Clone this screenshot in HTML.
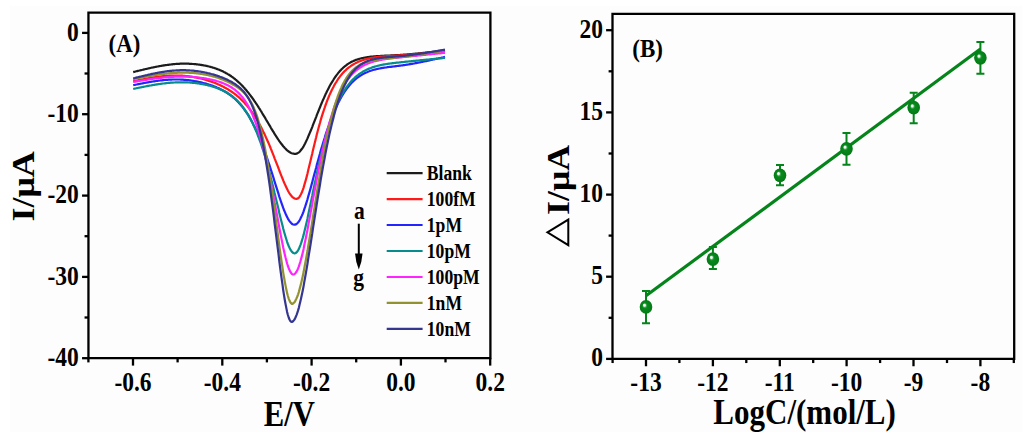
<!DOCTYPE html><html><head><meta charset="utf-8"><style>html,body{margin:0;padding:0;background:#fff;}svg{display:block;}text{font-family:"Liberation Serif",serif;font-weight:bold;fill:#000;}</style></head><body>
<svg width="1024" height="442" viewBox="0 0 1024 442">
<rect width="1024" height="442" fill="#fff"/><rect x="10" y="6" width="1012.5" height="426" fill="#fdfdfd"/>
<g stroke="#000" stroke-width="2.3" fill="none">
<path d="M88.45,12.7 H490.4 V358.2 H88.45 Z" stroke-linejoin="miter"/>
<path d="M88.45,32.9 H82.05"/>
<path d="M88.45,114.2 H82.05"/>
<path d="M88.45,195.6 H82.05"/>
<path d="M88.45,276.9 H82.05"/>
<path d="M88.45,358.2 H82.05"/>
<path d="M88.45,73.5 H84.55"/>
<path d="M88.45,154.9 H84.55"/>
<path d="M88.45,236.2 H84.55"/>
<path d="M88.45,317.5 H84.55"/>
<path d="M133.0,358.2 V365.6"/>
<path d="M222.3,358.2 V365.6"/>
<path d="M311.6,358.2 V365.6"/>
<path d="M400.9,358.2 V365.6"/>
<path d="M490.2,358.2 V365.6"/>
<path d="M88.4,358.2 V362.4"/>
<path d="M177.6,358.2 V362.4"/>
<path d="M266.9,358.2 V362.4"/>
<path d="M356.2,358.2 V362.4"/>
<path d="M445.5,358.2 V362.4"/>
</g>
<text transform="translate(78.7,40.5) scale(1,1.14)" font-size="23.5" text-anchor="end">0</text>
<text transform="translate(78.7,121.8) scale(1,1.14)" font-size="23.5" text-anchor="end">-10</text>
<text transform="translate(78.7,203.2) scale(1,1.14)" font-size="23.5" text-anchor="end">-20</text>
<text transform="translate(78.7,284.5) scale(1,1.14)" font-size="23.5" text-anchor="end">-30</text>
<text transform="translate(78.7,365.8) scale(1,1.14)" font-size="23.5" text-anchor="end">-40</text>
<text transform="translate(133.0,390.5) scale(1,1.14)" font-size="23.5" text-anchor="middle">-0.6</text>
<text transform="translate(222.3,390.5) scale(1,1.14)" font-size="23.5" text-anchor="middle">-0.4</text>
<text transform="translate(311.6,390.5) scale(1,1.14)" font-size="23.5" text-anchor="middle">-0.2</text>
<text transform="translate(400.9,390.5) scale(1,1.14)" font-size="23.5" text-anchor="middle">0.0</text>
<text transform="translate(490.2,390.5) scale(1,1.14)" font-size="23.5" text-anchor="middle">0.2</text>
<text transform="translate(289.4,425.7) scale(1,1.14)" font-size="30.7" text-anchor="middle">E/V</text>
<text transform="translate(33.6,186.4) scale(1,1.17) rotate(-90)" font-size="30.7" text-anchor="middle">I/μA</text>
<text transform="translate(108.6,51.5) scale(1,1.14)" font-size="22.8" text-anchor="start">(A)</text>
<g fill="none" stroke-width="2.2" stroke-linejoin="round">
<path stroke="#1c1c1c" d="M133.2,72.1 L134.0,71.9 L134.8,71.7 L135.5,71.5 L136.3,71.3 L137.1,71.1 L137.9,70.9 L138.7,70.7 L139.5,70.5 L140.2,70.3 L141.0,70.2 L141.8,70.0 L142.6,69.8 L143.4,69.6 L144.1,69.4 L144.9,69.2 L145.7,69.0 L146.5,68.9 L147.3,68.7 L148.0,68.5 L148.8,68.3 L149.6,68.2 L150.4,68.0 L151.2,67.8 L152.0,67.6 L152.7,67.5 L153.5,67.3 L154.3,67.2 L155.1,67.0 L155.9,66.8 L156.6,66.7 L157.4,66.5 L158.2,66.4 L159.0,66.2 L159.8,66.1 L160.6,66.0 L161.3,65.8 L162.1,65.7 L162.9,65.6 L163.7,65.4 L164.5,65.3 L165.2,65.2 L166.0,65.1 L166.8,65.0 L167.6,64.9 L168.4,64.8 L169.1,64.7 L169.9,64.6 L170.7,64.5 L171.5,64.4 L172.3,64.3 L173.1,64.2 L173.8,64.1 L174.6,64.1 L175.4,64.0 L176.2,63.9 L177.0,63.9 L177.7,63.8 L178.5,63.8 L179.3,63.8 L180.1,63.7 L180.9,63.7 L181.7,63.7 L182.4,63.7 L183.2,63.7 L184.0,63.7 L184.8,63.7 L185.6,63.7 L186.3,63.7 L187.1,63.7 L187.9,63.7 L188.7,63.7 L189.5,63.8 L190.2,63.8 L191.0,63.9 L191.8,63.9 L192.6,64.0 L193.4,64.0 L194.2,64.1 L194.9,64.2 L195.7,64.2 L196.5,64.3 L197.3,64.4 L198.1,64.5 L198.8,64.6 L199.6,64.7 L200.4,64.8 L201.2,64.9 L202.0,65.1 L202.7,65.2 L203.5,65.3 L204.3,65.5 L205.1,65.6 L205.9,65.8 L206.7,65.9 L207.4,66.1 L208.2,66.3 L209.0,66.5 L209.8,66.7 L210.6,66.9 L211.3,67.1 L212.1,67.3 L212.9,67.6 L213.7,67.8 L214.5,68.1 L215.3,68.3 L216.0,68.6 L216.8,68.9 L217.6,69.2 L218.4,69.5 L219.2,69.8 L219.9,70.1 L220.7,70.4 L221.5,70.8 L222.3,71.1 L223.1,71.5 L223.8,71.9 L224.6,72.3 L225.4,72.7 L226.2,73.2 L227.0,73.6 L227.8,74.1 L228.5,74.5 L229.3,75.0 L230.1,75.5 L230.9,76.0 L231.7,76.6 L232.4,77.1 L233.2,77.7 L234.0,78.3 L234.8,78.9 L235.6,79.6 L236.4,80.2 L237.1,80.9 L237.9,81.6 L238.7,82.3 L239.5,83.0 L240.3,83.8 L241.0,84.5 L241.8,85.3 L242.6,86.1 L243.4,87.0 L244.2,87.8 L244.9,88.7 L245.7,89.6 L246.5,90.5 L247.3,91.5 L248.1,92.4 L248.9,93.4 L249.6,94.4 L250.4,95.4 L251.2,96.5 L252.0,97.5 L252.8,98.6 L253.5,99.7 L254.3,100.9 L255.1,102.0 L255.9,103.2 L256.7,104.3 L257.5,105.5 L258.2,106.7 L259.0,108.0 L259.8,109.2 L260.6,110.5 L261.4,111.7 L262.1,113.0 L262.9,114.3 L263.7,115.6 L264.5,116.9 L265.3,118.2 L266.0,119.5 L266.8,120.8 L267.6,122.2 L268.4,123.5 L269.2,124.8 L270.0,126.1 L270.7,127.5 L271.5,128.8 L272.3,130.1 L273.1,131.4 L273.9,132.7 L274.6,133.9 L275.4,135.2 L276.2,136.4 L277.0,137.6 L277.8,138.8 L278.6,140.0 L279.3,141.1 L280.1,142.2 L280.9,143.3 L281.7,144.3 L282.5,145.3 L283.2,146.2 L284.0,147.1 L284.8,148.0 L285.6,148.8 L286.4,149.6 L287.1,150.3 L287.9,150.9 L288.7,151.5 L289.5,152.0 L290.3,152.5 L291.1,152.9 L291.8,153.2 L292.6,153.5 L293.4,153.6 L294.2,153.8 L295.0,153.8 L295.7,153.8 L296.5,153.7 L297.3,153.4 L298.1,152.9 L298.9,152.4 L299.6,151.7 L300.4,150.8 L301.2,149.8 L302.0,148.8 L302.8,147.6 L303.6,146.3 L304.3,144.9 L305.1,143.4 L305.9,141.8 L306.7,140.1 L307.5,138.4 L308.2,136.6 L309.0,134.8 L309.8,132.9 L310.6,131.0 L311.4,129.1 L312.2,127.1 L312.9,125.1 L313.7,123.1 L314.5,121.1 L315.3,119.1 L316.1,117.1 L316.8,115.1 L317.6,113.1 L318.4,111.2 L319.2,109.2 L320.0,107.3 L320.7,105.4 L321.5,103.5 L322.3,101.6 L323.1,99.8 L323.9,98.1 L324.7,96.3 L325.4,94.6 L326.2,93.0 L327.0,91.3 L327.8,89.8 L328.6,88.2 L329.3,86.8 L330.1,85.3 L330.9,83.9 L331.7,82.6 L332.5,81.3 L333.3,80.0 L334.0,78.8 L334.8,77.6 L335.6,76.5 L336.4,75.4 L337.2,74.4 L337.9,73.4 L338.7,72.4 L339.5,71.5 L340.3,70.6 L341.1,69.8 L341.8,69.0 L342.6,68.3 L343.4,67.5 L344.2,66.8 L345.0,66.2 L345.8,65.6 L346.5,65.0 L347.3,64.4 L348.1,63.9 L348.9,63.4 L349.7,62.9 L350.4,62.5 L351.2,62.0 L352.0,61.6 L352.8,61.3 L353.6,60.9 L354.4,60.6 L355.1,60.2 L355.9,59.9 L356.7,59.7 L357.5,59.4 L358.3,59.2 L359.0,58.9 L359.8,58.7 L360.6,58.5 L361.4,58.3 L362.2,58.1 L362.9,58.0 L363.7,57.8 L364.5,57.7 L365.3,57.5 L366.1,57.4 L366.9,57.3 L367.6,57.1 L368.4,57.0 L369.2,56.9 L370.0,56.8 L370.8,56.7 L371.5,56.7 L372.3,56.6 L373.1,56.5 L373.9,56.4 L374.7,56.4 L375.5,56.3 L376.2,56.2 L377.0,56.2 L377.8,56.1 L378.6,56.1 L379.4,56.0 L380.1,56.0 L380.9,55.9 L381.7,55.9 L382.5,55.8 L383.3,55.8 L384.0,55.8 L384.8,55.7 L385.6,55.7 L386.4,55.6 L387.2,55.6 L388.0,55.6 L388.7,55.5 L389.5,55.5 L390.3,55.5 L391.1,55.4 L391.9,55.4 L392.6,55.3 L393.4,55.3 L394.2,55.3 L395.0,55.2 L395.8,55.2 L396.5,55.1 L397.3,55.1 L398.1,55.1 L398.9,55.0 L399.7,55.0 L400.5,54.9 L401.2,54.9 L402.0,54.8 L402.8,54.8 L403.6,54.7 L404.4,54.6 L405.1,54.6 L405.9,54.5 L406.7,54.5 L407.5,54.4 L408.3,54.3 L409.1,54.3 L409.8,54.2 L410.6,54.2 L411.4,54.1 L412.2,54.0 L413.0,53.9 L413.7,53.9 L414.5,53.8 L415.3,53.7 L416.1,53.7 L416.9,53.6 L417.6,53.5 L418.4,53.4 L419.2,53.3 L420.0,53.3 L420.8,53.2 L421.6,53.1 L422.3,53.0 L423.1,52.9 L423.9,52.8 L424.7,52.8 L425.5,52.7 L426.2,52.6 L427.0,52.5 L427.8,52.4 L428.6,52.3 L429.4,52.2 L430.2,52.1 L430.9,52.1 L431.7,52.0 L432.5,51.9 L433.3,51.8 L434.1,51.7 L434.8,51.6 L435.6,51.5 L436.4,51.4 L437.2,51.3 L438.0,51.2 L438.7,51.1 L439.5,51.0 L440.3,50.9 L441.1,50.9 L441.9,50.8 L442.7,50.7 L443.4,50.6 L444.2,50.5 L445.0,50.4"/>
<path stroke="#ff1a1a" d="M133.2,81.3 L134.0,81.1 L134.8,81.0 L135.5,80.8 L136.3,80.6 L137.1,80.5 L137.9,80.3 L138.7,80.1 L139.5,80.0 L140.2,79.8 L141.0,79.7 L141.8,79.5 L142.6,79.4 L143.4,79.2 L144.1,79.1 L144.9,78.9 L145.7,78.8 L146.5,78.6 L147.3,78.5 L148.0,78.3 L148.8,78.2 L149.6,78.1 L150.4,77.9 L151.2,77.8 L152.0,77.7 L152.7,77.6 L153.5,77.4 L154.3,77.3 L155.1,77.2 L155.9,77.1 L156.6,77.0 L157.4,76.9 L158.2,76.8 L159.0,76.7 L159.8,76.6 L160.6,76.5 L161.3,76.4 L162.1,76.3 L162.9,76.2 L163.7,76.1 L164.5,76.1 L165.2,76.0 L166.0,75.9 L166.8,75.9 L167.6,75.8 L168.4,75.8 L169.1,75.7 L169.9,75.7 L170.7,75.6 L171.5,75.6 L172.3,75.6 L173.1,75.6 L173.8,75.5 L174.6,75.5 L175.4,75.5 L176.2,75.5 L177.0,75.5 L177.7,75.5 L178.5,75.6 L179.3,75.6 L180.1,75.6 L180.9,75.7 L181.7,75.7 L182.4,75.7 L183.2,75.8 L184.0,75.9 L184.8,75.9 L185.6,76.0 L186.3,76.1 L187.1,76.2 L187.9,76.2 L188.7,76.3 L189.5,76.4 L190.2,76.6 L191.0,76.7 L191.8,76.8 L192.6,76.9 L193.4,77.0 L194.2,77.2 L194.9,77.3 L195.7,77.5 L196.5,77.6 L197.3,77.8 L198.1,77.9 L198.8,78.1 L199.6,78.3 L200.4,78.5 L201.2,78.6 L202.0,78.8 L202.7,79.0 L203.5,79.2 L204.3,79.5 L205.1,79.7 L205.9,79.9 L206.7,80.1 L207.4,80.4 L208.2,80.6 L209.0,80.9 L209.8,81.1 L210.6,81.4 L211.3,81.6 L212.1,81.9 L212.9,82.2 L213.7,82.5 L214.5,82.8 L215.3,83.1 L216.0,83.4 L216.8,83.7 L217.6,84.1 L218.4,84.4 L219.2,84.8 L219.9,85.1 L220.7,85.5 L221.5,85.9 L222.3,86.2 L223.1,86.6 L223.8,87.0 L224.6,87.5 L225.4,87.9 L226.2,88.3 L227.0,88.8 L227.8,89.2 L228.5,89.7 L229.3,90.2 L230.1,90.7 L230.9,91.2 L231.7,91.7 L232.4,92.3 L233.2,92.8 L234.0,93.4 L234.8,94.0 L235.6,94.6 L236.4,95.2 L237.1,95.9 L237.9,96.5 L238.7,97.2 L239.5,97.9 L240.3,98.6 L241.0,99.4 L241.8,100.1 L242.6,100.9 L243.4,101.7 L244.2,102.5 L244.9,103.4 L245.7,104.3 L246.5,105.1 L247.3,106.1 L248.1,107.0 L248.9,108.0 L249.6,109.0 L250.4,110.0 L251.2,111.1 L252.0,112.2 L252.8,113.3 L253.5,114.5 L254.3,115.7 L255.1,116.9 L255.9,118.1 L256.7,119.4 L257.5,120.7 L258.2,122.1 L259.0,123.4 L259.8,124.9 L260.6,126.3 L261.4,127.8 L262.1,129.3 L262.9,130.9 L263.7,132.5 L264.5,134.1 L265.3,135.8 L266.0,137.5 L266.8,139.2 L267.6,141.0 L268.4,142.8 L269.2,144.6 L270.0,146.5 L270.7,148.4 L271.5,150.3 L272.3,152.3 L273.1,154.3 L273.9,156.3 L274.6,158.3 L275.4,160.3 L276.2,162.3 L277.0,164.4 L277.8,166.4 L278.6,168.5 L279.3,170.5 L280.1,172.6 L280.9,174.6 L281.7,176.6 L282.5,178.5 L283.2,180.4 L284.0,182.3 L284.8,184.1 L285.6,185.8 L286.4,187.5 L287.1,189.1 L287.9,190.6 L288.7,192.0 L289.5,193.3 L290.3,194.5 L291.1,195.5 L291.8,196.4 L292.6,197.2 L293.4,197.8 L294.2,198.3 L295.0,198.6 L295.7,198.8 L296.5,198.8 L297.3,198.7 L298.1,198.3 L298.9,197.6 L299.6,196.6 L300.4,195.3 L301.2,193.8 L302.0,192.0 L302.8,189.9 L303.6,187.6 L304.3,185.1 L305.1,182.4 L305.9,179.6 L306.7,176.6 L307.5,173.5 L308.2,170.3 L309.0,167.1 L309.8,163.8 L310.6,160.5 L311.4,157.1 L312.2,153.8 L312.9,150.5 L313.7,147.2 L314.5,143.9 L315.3,140.7 L316.1,137.6 L316.8,134.5 L317.6,131.4 L318.4,128.5 L319.2,125.6 L320.0,122.8 L320.7,120.1 L321.5,117.4 L322.3,114.9 L323.1,112.4 L323.9,110.0 L324.7,107.7 L325.4,105.5 L326.2,103.3 L327.0,101.2 L327.8,99.2 L328.6,97.3 L329.3,95.4 L330.1,93.7 L330.9,92.0 L331.7,90.3 L332.5,88.7 L333.3,87.2 L334.0,85.8 L334.8,84.4 L335.6,83.0 L336.4,81.8 L337.2,80.5 L337.9,79.4 L338.7,78.2 L339.5,77.2 L340.3,76.1 L341.1,75.1 L341.8,74.2 L342.6,73.3 L343.4,72.4 L344.2,71.6 L345.0,70.8 L345.8,70.1 L346.5,69.4 L347.3,68.7 L348.1,68.0 L348.9,67.4 L349.7,66.8 L350.4,66.3 L351.2,65.7 L352.0,65.2 L352.8,64.7 L353.6,64.2 L354.4,63.8 L355.1,63.4 L355.9,62.9 L356.7,62.6 L357.5,62.2 L358.3,61.8 L359.0,61.5 L359.8,61.2 L360.6,60.9 L361.4,60.6 L362.2,60.3 L362.9,60.1 L363.7,59.8 L364.5,59.6 L365.3,59.4 L366.1,59.1 L366.9,58.9 L367.6,58.7 L368.4,58.6 L369.2,58.4 L370.0,58.2 L370.8,58.1 L371.5,57.9 L372.3,57.8 L373.1,57.7 L373.9,57.5 L374.7,57.4 L375.5,57.3 L376.2,57.2 L377.0,57.1 L377.8,57.0 L378.6,56.9 L379.4,56.8 L380.1,56.7 L380.9,56.7 L381.7,56.6 L382.5,56.5 L383.3,56.4 L384.0,56.4 L384.8,56.3 L385.6,56.3 L386.4,56.2 L387.2,56.1 L388.0,56.1 L388.7,56.0 L389.5,56.0 L390.3,55.9 L391.1,55.9 L391.9,55.9 L392.6,55.8 L393.4,55.8 L394.2,55.7 L395.0,55.7 L395.8,55.6 L396.5,55.6 L397.3,55.5 L398.1,55.5 L398.9,55.4 L399.7,55.4 L400.5,55.3 L401.2,55.3 L402.0,55.2 L402.8,55.2 L403.6,55.1 L404.4,55.1 L405.1,55.0 L405.9,55.0 L406.7,54.9 L407.5,54.8 L408.3,54.8 L409.1,54.7 L409.8,54.6 L410.6,54.6 L411.4,54.5 L412.2,54.4 L413.0,54.4 L413.7,54.3 L414.5,54.2 L415.3,54.1 L416.1,54.1 L416.9,54.0 L417.6,53.9 L418.4,53.8 L419.2,53.8 L420.0,53.7 L420.8,53.6 L421.6,53.5 L422.3,53.4 L423.1,53.3 L423.9,53.2 L424.7,53.2 L425.5,53.1 L426.2,53.0 L427.0,52.9 L427.8,52.8 L428.6,52.7 L429.4,52.6 L430.2,52.5 L430.9,52.5 L431.7,52.4 L432.5,52.3 L433.3,52.2 L434.1,52.1 L434.8,52.0 L435.6,51.9 L436.4,51.8 L437.2,51.7 L438.0,51.6 L438.7,51.5 L439.5,51.4 L440.3,51.3 L441.1,51.2 L441.9,51.2 L442.7,51.1 L443.4,51.0 L444.2,50.9 L445.0,50.8"/>
<path stroke="#2424ff" d="M133.2,85.2 L134.0,85.0 L134.8,84.9 L135.5,84.7 L136.3,84.5 L137.1,84.4 L137.9,84.2 L138.7,84.1 L139.5,83.9 L140.2,83.8 L141.0,83.6 L141.8,83.5 L142.6,83.3 L143.4,83.2 L144.1,83.0 L144.9,82.9 L145.7,82.7 L146.5,82.6 L147.3,82.4 L148.0,82.3 L148.8,82.2 L149.6,82.0 L150.4,81.9 L151.2,81.8 L152.0,81.6 L152.7,81.5 L153.5,81.4 L154.3,81.3 L155.1,81.2 L155.9,81.0 L156.6,80.9 L157.4,80.8 L158.2,80.7 L159.0,80.6 L159.8,80.5 L160.6,80.4 L161.3,80.3 L162.1,80.3 L162.9,80.2 L163.7,80.1 L164.5,80.0 L165.2,80.0 L166.0,79.9 L166.8,79.8 L167.6,79.8 L168.4,79.7 L169.1,79.7 L169.9,79.6 L170.7,79.6 L171.5,79.6 L172.3,79.5 L173.1,79.5 L173.8,79.5 L174.6,79.5 L175.4,79.5 L176.2,79.5 L177.0,79.5 L177.7,79.5 L178.5,79.5 L179.3,79.5 L180.1,79.5 L180.9,79.6 L181.7,79.6 L182.4,79.7 L183.2,79.7 L184.0,79.8 L184.8,79.8 L185.6,79.9 L186.3,80.0 L187.1,80.1 L187.9,80.1 L188.7,80.2 L189.5,80.3 L190.2,80.4 L191.0,80.5 L191.8,80.6 L192.6,80.8 L193.4,80.9 L194.2,81.0 L194.9,81.2 L195.7,81.3 L196.5,81.4 L197.3,81.6 L198.1,81.7 L198.8,81.9 L199.6,82.1 L200.4,82.2 L201.2,82.4 L202.0,82.6 L202.7,82.8 L203.5,83.0 L204.3,83.2 L205.1,83.4 L205.9,83.6 L206.7,83.9 L207.4,84.1 L208.2,84.3 L209.0,84.6 L209.8,84.8 L210.6,85.1 L211.3,85.3 L212.1,85.6 L212.9,85.9 L213.7,86.2 L214.5,86.5 L215.3,86.8 L216.0,87.1 L216.8,87.5 L217.6,87.8 L218.4,88.1 L219.2,88.5 L219.9,88.9 L220.7,89.3 L221.5,89.6 L222.3,90.1 L223.1,90.5 L223.8,90.9 L224.6,91.3 L225.4,91.8 L226.2,92.3 L227.0,92.8 L227.8,93.3 L228.5,93.8 L229.3,94.3 L230.1,94.9 L230.9,95.5 L231.7,96.1 L232.4,96.7 L233.2,97.4 L234.0,98.0 L234.8,98.7 L235.6,99.4 L236.4,100.2 L237.1,100.9 L237.9,101.7 L238.7,102.6 L239.5,103.4 L240.3,104.3 L241.0,105.2 L241.8,106.1 L242.6,107.1 L243.4,108.1 L244.2,109.2 L244.9,110.3 L245.7,111.4 L246.5,112.5 L247.3,113.7 L248.1,114.9 L248.9,116.2 L249.6,117.5 L250.4,118.9 L251.2,120.2 L252.0,121.7 L252.8,123.2 L253.5,124.7 L254.3,126.2 L255.1,127.8 L255.9,129.5 L256.7,131.2 L257.5,132.9 L258.2,134.7 L259.0,136.6 L259.8,138.4 L260.6,140.4 L261.4,142.3 L262.1,144.4 L262.9,146.4 L263.7,148.5 L264.5,150.7 L265.3,152.9 L266.0,155.1 L266.8,157.4 L267.6,159.7 L268.4,162.0 L269.2,164.4 L270.0,166.8 L270.7,169.2 L271.5,171.7 L272.3,174.2 L273.1,176.7 L273.9,179.2 L274.6,181.7 L275.4,184.2 L276.2,186.7 L277.0,189.2 L277.8,191.7 L278.6,194.2 L279.3,196.6 L280.1,199.0 L280.9,201.3 L281.7,203.6 L282.5,205.8 L283.2,207.9 L284.0,210.0 L284.8,211.9 L285.6,213.8 L286.4,215.5 L287.1,217.1 L287.9,218.6 L288.7,219.9 L289.5,221.1 L290.3,222.1 L291.1,223.0 L291.8,223.7 L292.6,224.2 L293.4,224.5 L294.2,224.7 L295.0,224.6 L295.7,224.4 L296.5,224.0 L297.3,223.3 L298.1,222.5 L298.9,221.4 L299.6,220.2 L300.4,218.7 L301.2,217.1 L302.0,215.4 L302.8,213.5 L303.6,211.4 L304.3,209.2 L305.1,206.9 L305.9,204.4 L306.7,201.9 L307.5,199.3 L308.2,196.6 L309.0,193.9 L309.8,191.1 L310.6,188.2 L311.4,185.3 L312.2,182.4 L312.9,179.5 L313.7,176.5 L314.5,173.6 L315.3,170.7 L316.1,167.8 L316.8,164.9 L317.6,162.0 L318.4,159.2 L319.2,156.3 L320.0,153.6 L320.7,150.8 L321.5,148.1 L322.3,145.5 L323.1,142.9 L323.9,140.3 L324.7,137.8 L325.4,135.3 L326.2,132.9 L327.0,130.6 L327.8,128.3 L328.6,126.1 L329.3,123.9 L330.1,121.7 L330.9,119.7 L331.7,117.6 L332.5,115.7 L333.3,113.8 L334.0,111.9 L334.8,110.1 L335.6,108.4 L336.4,106.7 L337.2,105.0 L337.9,103.4 L338.7,101.9 L339.5,100.4 L340.3,98.9 L341.1,97.5 L341.8,96.2 L342.6,94.9 L343.4,93.6 L344.2,92.4 L345.0,91.2 L345.8,90.1 L346.5,89.0 L347.3,88.0 L348.1,87.0 L348.9,86.0 L349.7,85.1 L350.4,84.2 L351.2,83.3 L352.0,82.5 L352.8,81.7 L353.6,80.9 L354.4,80.2 L355.1,79.5 L355.9,78.9 L356.7,78.2 L357.5,77.6 L358.3,77.0 L359.0,76.5 L359.8,76.0 L360.6,75.4 L361.4,75.0 L362.2,74.5 L362.9,74.1 L363.7,73.7 L364.5,73.3 L365.3,72.9 L366.1,72.5 L366.9,72.2 L367.6,71.9 L368.4,71.5 L369.2,71.3 L370.0,71.0 L370.8,70.7 L371.5,70.5 L372.3,70.2 L373.1,70.0 L373.9,69.8 L374.7,69.6 L375.5,69.4 L376.2,69.2 L377.0,69.0 L377.8,68.8 L378.6,68.7 L379.4,68.5 L380.1,68.4 L380.9,68.2 L381.7,68.1 L382.5,67.9 L383.3,67.8 L384.0,67.7 L384.8,67.6 L385.6,67.5 L386.4,67.4 L387.2,67.2 L388.0,67.1 L388.7,67.0 L389.5,66.9 L390.3,66.8 L391.1,66.8 L391.9,66.7 L392.6,66.6 L393.4,66.5 L394.2,66.4 L395.0,66.3 L395.8,66.2 L396.5,66.1 L397.3,66.0 L398.1,65.9 L398.9,65.8 L399.7,65.7 L400.5,65.6 L401.2,65.5 L402.0,65.4 L402.8,65.3 L403.6,65.2 L404.4,65.1 L405.1,65.0 L405.9,64.8 L406.7,64.7 L407.5,64.6 L408.3,64.5 L409.1,64.3 L409.8,64.2 L410.6,64.1 L411.4,63.9 L412.2,63.8 L413.0,63.7 L413.7,63.5 L414.5,63.4 L415.3,63.2 L416.1,63.1 L416.9,62.9 L417.6,62.8 L418.4,62.6 L419.2,62.5 L420.0,62.3 L420.8,62.2 L421.6,62.0 L422.3,61.9 L423.1,61.7 L423.9,61.5 L424.7,61.4 L425.5,61.2 L426.2,61.1 L427.0,60.9 L427.8,60.7 L428.6,60.6 L429.4,60.4 L430.2,60.2 L430.9,60.0 L431.7,59.9 L432.5,59.7 L433.3,59.5 L434.1,59.4 L434.8,59.2 L435.6,59.0 L436.4,58.8 L437.2,58.7 L438.0,58.5 L438.7,58.3 L439.5,58.1 L440.3,58.0 L441.1,57.8 L441.9,57.6 L442.7,57.5 L443.4,57.3 L444.2,57.1 L445.0,56.9"/>
<path stroke="#068c8c" d="M133.2,89.0 L134.0,88.8 L134.8,88.6 L135.5,88.5 L136.3,88.3 L137.1,88.1 L137.9,88.0 L138.7,87.8 L139.5,87.6 L140.2,87.5 L141.0,87.3 L141.8,87.2 L142.6,87.0 L143.4,86.8 L144.1,86.7 L144.9,86.5 L145.7,86.4 L146.5,86.2 L147.3,86.1 L148.0,85.9 L148.8,85.8 L149.6,85.6 L150.4,85.5 L151.2,85.4 L152.0,85.2 L152.7,85.1 L153.5,85.0 L154.3,84.8 L155.1,84.7 L155.9,84.6 L156.6,84.4 L157.4,84.3 L158.2,84.2 L159.0,84.1 L159.8,84.0 L160.6,83.9 L161.3,83.8 L162.1,83.6 L162.9,83.5 L163.7,83.5 L164.5,83.4 L165.2,83.3 L166.0,83.2 L166.8,83.1 L167.6,83.0 L168.4,82.9 L169.1,82.9 L169.9,82.8 L170.7,82.7 L171.5,82.7 L172.3,82.6 L173.1,82.6 L173.8,82.5 L174.6,82.5 L175.4,82.4 L176.2,82.4 L177.0,82.4 L177.7,82.3 L178.5,82.3 L179.3,82.3 L180.1,82.3 L180.9,82.3 L181.7,82.3 L182.4,82.3 L183.2,82.3 L184.0,82.3 L184.8,82.3 L185.6,82.4 L186.3,82.4 L187.1,82.4 L187.9,82.5 L188.7,82.5 L189.5,82.5 L190.2,82.6 L191.0,82.7 L191.8,82.7 L192.6,82.8 L193.4,82.9 L194.2,83.0 L194.9,83.0 L195.7,83.1 L196.5,83.2 L197.3,83.3 L198.1,83.4 L198.8,83.5 L199.6,83.7 L200.4,83.8 L201.2,83.9 L202.0,84.1 L202.7,84.2 L203.5,84.3 L204.3,84.5 L205.1,84.7 L205.9,84.8 L206.7,85.0 L207.4,85.2 L208.2,85.4 L209.0,85.6 L209.8,85.8 L210.6,86.0 L211.3,86.2 L212.1,86.4 L212.9,86.7 L213.7,86.9 L214.5,87.2 L215.3,87.4 L216.0,87.7 L216.8,88.0 L217.6,88.3 L218.4,88.6 L219.2,88.9 L219.9,89.2 L220.7,89.6 L221.5,89.9 L222.3,90.3 L223.1,90.7 L223.8,91.1 L224.6,91.5 L225.4,91.9 L226.2,92.3 L227.0,92.8 L227.8,93.3 L228.5,93.8 L229.3,94.3 L230.1,94.8 L230.9,95.4 L231.7,95.9 L232.4,96.5 L233.2,97.1 L234.0,97.8 L234.8,98.5 L235.6,99.2 L236.4,99.9 L237.1,100.6 L237.9,101.4 L238.7,102.2 L239.5,103.1 L240.3,103.9 L241.0,104.8 L241.8,105.8 L242.6,106.8 L243.4,107.8 L244.2,108.9 L244.9,110.0 L245.7,111.1 L246.5,112.3 L247.3,113.5 L248.1,114.8 L248.9,116.1 L249.6,117.5 L250.4,118.9 L251.2,120.4 L252.0,122.0 L252.8,123.6 L253.5,125.2 L254.3,126.9 L255.1,128.7 L255.9,130.5 L256.7,132.4 L257.5,134.3 L258.2,136.3 L259.0,138.4 L259.8,140.5 L260.6,142.7 L261.4,145.0 L262.1,147.3 L262.9,149.7 L263.7,152.2 L264.5,154.7 L265.3,157.3 L266.0,160.0 L266.8,162.7 L267.6,165.5 L268.4,168.4 L269.2,171.3 L270.0,174.2 L270.7,177.3 L271.5,180.4 L272.3,183.5 L273.1,186.7 L273.9,189.9 L274.6,193.1 L275.4,196.4 L276.2,199.7 L277.0,203.0 L277.8,206.3 L278.6,209.6 L279.3,212.9 L280.1,216.2 L280.9,219.4 L281.7,222.5 L282.5,225.6 L283.2,228.6 L284.0,231.5 L284.8,234.3 L285.6,237.0 L286.4,239.5 L287.1,241.8 L287.9,244.0 L288.7,246.0 L289.5,247.7 L290.3,249.3 L291.1,250.6 L291.8,251.6 L292.6,252.4 L293.4,253.0 L294.2,253.3 L295.0,253.3 L295.7,253.0 L296.5,252.4 L297.3,251.5 L298.1,250.3 L298.9,248.9 L299.6,247.1 L300.4,245.1 L301.2,242.9 L302.0,240.4 L302.8,237.8 L303.6,234.9 L304.3,231.9 L305.1,228.7 L305.9,225.3 L306.7,221.9 L307.5,218.4 L308.2,214.7 L309.0,211.0 L309.8,207.3 L310.6,203.5 L311.4,199.7 L312.2,196.0 L312.9,192.2 L313.7,188.4 L314.5,184.6 L315.3,180.9 L316.1,177.2 L316.8,173.6 L317.6,170.0 L318.4,166.5 L319.2,163.1 L320.0,159.7 L320.7,156.4 L321.5,153.1 L322.3,150.0 L323.1,146.9 L323.9,143.8 L324.7,140.9 L325.4,138.0 L326.2,135.3 L327.0,132.5 L327.8,129.9 L328.6,127.4 L329.3,124.9 L330.1,122.5 L330.9,120.2 L331.7,117.9 L332.5,115.7 L333.3,113.6 L334.0,111.6 L334.8,109.6 L335.6,107.7 L336.4,105.9 L337.2,104.1 L337.9,102.4 L338.7,100.7 L339.5,99.1 L340.3,97.6 L341.1,96.1 L341.8,94.7 L342.6,93.3 L343.4,92.0 L344.2,90.7 L345.0,89.5 L345.8,88.3 L346.5,87.2 L347.3,86.1 L348.1,85.1 L348.9,84.1 L349.7,83.1 L350.4,82.2 L351.2,81.3 L352.0,80.4 L352.8,79.6 L353.6,78.8 L354.4,78.1 L355.1,77.4 L355.9,76.7 L356.7,76.0 L357.5,75.4 L358.3,74.8 L359.0,74.2 L359.8,73.6 L360.6,73.1 L361.4,72.6 L362.2,72.1 L362.9,71.6 L363.7,71.2 L364.5,70.8 L365.3,70.4 L366.1,70.0 L366.9,69.6 L367.6,69.2 L368.4,68.9 L369.2,68.6 L370.0,68.3 L370.8,68.0 L371.5,67.7 L372.3,67.4 L373.1,67.1 L373.9,66.9 L374.7,66.6 L375.5,66.4 L376.2,66.2 L377.0,66.0 L377.8,65.8 L378.6,65.6 L379.4,65.4 L380.1,65.2 L380.9,65.1 L381.7,64.9 L382.5,64.7 L383.3,64.6 L384.0,64.4 L384.8,64.3 L385.6,64.2 L386.4,64.0 L387.2,63.9 L388.0,63.8 L388.7,63.7 L389.5,63.6 L390.3,63.5 L391.1,63.4 L391.9,63.3 L392.6,63.2 L393.4,63.1 L394.2,63.0 L395.0,62.9 L395.8,62.8 L396.5,62.7 L397.3,62.6 L398.1,62.6 L398.9,62.5 L399.7,62.4 L400.5,62.3 L401.2,62.2 L402.0,62.1 L402.8,62.1 L403.6,62.0 L404.4,61.9 L405.1,61.8 L405.9,61.7 L406.7,61.7 L407.5,61.6 L408.3,61.5 L409.1,61.4 L409.8,61.3 L410.6,61.3 L411.4,61.2 L412.2,61.1 L413.0,61.0 L413.7,60.9 L414.5,60.9 L415.3,60.8 L416.1,60.7 L416.9,60.6 L417.6,60.6 L418.4,60.5 L419.2,60.4 L420.0,60.3 L420.8,60.2 L421.6,60.2 L422.3,60.1 L423.1,60.0 L423.9,59.9 L424.7,59.8 L425.5,59.8 L426.2,59.7 L427.0,59.6 L427.8,59.5 L428.6,59.5 L429.4,59.4 L430.2,59.3 L430.9,59.2 L431.7,59.1 L432.5,59.1 L433.3,59.0 L434.1,58.9 L434.8,58.8 L435.6,58.8 L436.4,58.7 L437.2,58.6 L438.0,58.5 L438.7,58.5 L439.5,58.4 L440.3,58.3 L441.1,58.3 L441.9,58.2 L442.7,58.1 L443.4,58.0 L444.2,58.0 L445.0,57.9"/>
<path stroke="#ff24ff" d="M133.2,82.0 L134.0,81.8 L134.8,81.7 L135.5,81.6 L136.3,81.4 L137.1,81.3 L137.9,81.2 L138.7,81.0 L139.5,80.9 L140.2,80.8 L141.0,80.6 L141.8,80.5 L142.6,80.4 L143.4,80.3 L144.1,80.1 L144.9,80.0 L145.7,79.9 L146.5,79.8 L147.3,79.6 L148.0,79.5 L148.8,79.4 L149.6,79.3 L150.4,79.2 L151.2,79.1 L152.0,79.0 L152.7,78.8 L153.5,78.7 L154.3,78.6 L155.1,78.5 L155.9,78.4 L156.6,78.3 L157.4,78.2 L158.2,78.1 L159.0,78.0 L159.8,77.9 L160.6,77.9 L161.3,77.8 L162.1,77.7 L162.9,77.6 L163.7,77.5 L164.5,77.4 L165.2,77.4 L166.0,77.3 L166.8,77.2 L167.6,77.2 L168.4,77.1 L169.1,77.0 L169.9,77.0 L170.7,76.9 L171.5,76.9 L172.3,76.8 L173.1,76.8 L173.8,76.8 L174.6,76.7 L175.4,76.7 L176.2,76.7 L177.0,76.6 L177.7,76.6 L178.5,76.6 L179.3,76.6 L180.1,76.6 L180.9,76.6 L181.7,76.6 L182.4,76.6 L183.2,76.6 L184.0,76.6 L184.8,76.6 L185.6,76.6 L186.3,76.6 L187.1,76.7 L187.9,76.7 L188.7,76.7 L189.5,76.8 L190.2,76.8 L191.0,76.9 L191.8,76.9 L192.6,77.0 L193.4,77.0 L194.2,77.1 L194.9,77.2 L195.7,77.2 L196.5,77.3 L197.3,77.4 L198.1,77.5 L198.8,77.6 L199.6,77.7 L200.4,77.8 L201.2,77.9 L202.0,78.0 L202.7,78.1 L203.5,78.2 L204.3,78.3 L205.1,78.4 L205.9,78.6 L206.7,78.7 L207.4,78.9 L208.2,79.0 L209.0,79.2 L209.8,79.3 L210.6,79.5 L211.3,79.7 L212.1,79.8 L212.9,80.0 L213.7,80.2 L214.5,80.4 L215.3,80.6 L216.0,80.8 L216.8,81.1 L217.6,81.3 L218.4,81.5 L219.2,81.8 L219.9,82.0 L220.7,82.3 L221.5,82.6 L222.3,82.9 L223.1,83.2 L223.8,83.5 L224.6,83.8 L225.4,84.2 L226.2,84.5 L227.0,84.9 L227.8,85.3 L228.5,85.7 L229.3,86.1 L230.1,86.6 L230.9,87.0 L231.7,87.5 L232.4,88.0 L233.2,88.6 L234.0,89.1 L234.8,89.7 L235.6,90.4 L236.4,91.0 L237.1,91.7 L237.9,92.4 L238.7,93.1 L239.5,93.9 L240.3,94.8 L241.0,95.6 L241.8,96.6 L242.6,97.5 L243.4,98.5 L244.2,99.6 L244.9,100.7 L245.7,101.9 L246.5,103.1 L247.3,104.4 L248.1,105.8 L248.9,107.2 L249.6,108.7 L250.4,110.3 L251.2,111.9 L252.0,113.6 L252.8,115.4 L253.5,117.3 L254.3,119.2 L255.1,121.3 L255.9,123.4 L256.7,125.7 L257.5,128.0 L258.2,130.4 L259.0,132.9 L259.8,135.5 L260.6,138.2 L261.4,141.0 L262.1,143.9 L262.9,146.9 L263.7,149.9 L264.5,153.1 L265.3,156.4 L266.0,159.8 L266.8,163.3 L267.6,166.8 L268.4,170.5 L269.2,174.2 L270.0,178.0 L270.7,181.9 L271.5,185.9 L272.3,189.9 L273.1,194.0 L273.9,198.1 L274.6,202.3 L275.4,206.5 L276.2,210.8 L277.0,215.0 L277.8,219.3 L278.6,223.5 L279.3,227.7 L280.1,231.8 L280.9,235.9 L281.7,239.9 L282.5,243.8 L283.2,247.5 L284.0,251.1 L284.8,254.5 L285.6,257.8 L286.4,260.8 L287.1,263.5 L287.9,266.0 L288.7,268.2 L289.5,270.1 L290.3,271.7 L291.1,273.0 L291.8,273.8 L292.6,274.4 L293.4,274.5 L294.2,274.3 L295.0,273.7 L295.7,272.9 L296.5,271.7 L297.3,270.2 L298.1,268.4 L298.9,266.4 L299.6,264.0 L300.4,261.5 L301.2,258.6 L302.0,255.6 L302.8,252.4 L303.6,248.9 L304.3,245.3 L305.1,241.6 L305.9,237.7 L306.7,233.8 L307.5,229.7 L308.2,225.6 L309.0,221.4 L309.8,217.1 L310.6,212.9 L311.4,208.6 L312.2,204.3 L312.9,200.0 L313.7,195.7 L314.5,191.5 L315.3,187.3 L316.1,183.1 L316.8,179.0 L317.6,174.9 L318.4,170.9 L319.2,167.0 L320.0,163.1 L320.7,159.4 L321.5,155.6 L322.3,152.0 L323.1,148.5 L323.9,145.0 L324.7,141.6 L325.4,138.3 L326.2,135.1 L327.0,132.0 L327.8,129.0 L328.6,126.1 L329.3,123.2 L330.1,120.5 L330.9,117.8 L331.7,115.3 L332.5,112.8 L333.3,110.4 L334.0,108.1 L334.8,105.8 L335.6,103.7 L336.4,101.6 L337.2,99.6 L337.9,97.7 L338.7,95.9 L339.5,94.1 L340.3,92.4 L341.1,90.8 L341.8,89.3 L342.6,87.8 L343.4,86.4 L344.2,85.0 L345.0,83.7 L345.8,82.5 L346.5,81.3 L347.3,80.1 L348.1,79.1 L348.9,78.0 L349.7,77.0 L350.4,76.1 L351.2,75.2 L352.0,74.3 L352.8,73.5 L353.6,72.7 L354.4,72.0 L355.1,71.3 L355.9,70.6 L356.7,70.0 L357.5,69.4 L358.3,68.8 L359.0,68.2 L359.8,67.7 L360.6,67.2 L361.4,66.7 L362.2,66.3 L362.9,65.8 L363.7,65.4 L364.5,65.0 L365.3,64.7 L366.1,64.3 L366.9,64.0 L367.6,63.7 L368.4,63.3 L369.2,63.1 L370.0,62.8 L370.8,62.5 L371.5,62.2 L372.3,62.0 L373.1,61.8 L373.9,61.5 L374.7,61.3 L375.5,61.1 L376.2,60.9 L377.0,60.7 L377.8,60.6 L378.6,60.4 L379.4,60.2 L380.1,60.1 L380.9,59.9 L381.7,59.8 L382.5,59.6 L383.3,59.5 L384.0,59.4 L384.8,59.2 L385.6,59.1 L386.4,59.0 L387.2,58.9 L388.0,58.8 L388.7,58.7 L389.5,58.6 L390.3,58.5 L391.1,58.4 L391.9,58.3 L392.6,58.2 L393.4,58.1 L394.2,58.0 L395.0,57.9 L395.8,57.9 L396.5,57.8 L397.3,57.7 L398.1,57.6 L398.9,57.5 L399.7,57.4 L400.5,57.4 L401.2,57.3 L402.0,57.2 L402.8,57.1 L403.6,57.0 L404.4,57.0 L405.1,56.9 L405.9,56.8 L406.7,56.7 L407.5,56.6 L408.3,56.6 L409.1,56.5 L409.8,56.4 L410.6,56.3 L411.4,56.2 L412.2,56.2 L413.0,56.1 L413.7,56.0 L414.5,55.9 L415.3,55.8 L416.1,55.8 L416.9,55.7 L417.6,55.6 L418.4,55.5 L419.2,55.4 L420.0,55.3 L420.8,55.3 L421.6,55.2 L422.3,55.1 L423.1,55.0 L423.9,54.9 L424.7,54.9 L425.5,54.8 L426.2,54.7 L427.0,54.6 L427.8,54.5 L428.6,54.4 L429.4,54.4 L430.2,54.3 L430.9,54.2 L431.7,54.1 L432.5,54.0 L433.3,54.0 L434.1,53.9 L434.8,53.8 L435.6,53.7 L436.4,53.6 L437.2,53.6 L438.0,53.5 L438.7,53.4 L439.5,53.3 L440.3,53.3 L441.1,53.2 L441.9,53.1 L442.7,53.0 L443.4,53.0 L444.2,52.9 L445.0,52.8"/>
<path stroke="#929230" d="M133.2,79.1 L134.0,79.0 L134.8,78.8 L135.5,78.6 L136.3,78.5 L137.1,78.3 L137.9,78.2 L138.7,78.0 L139.5,77.9 L140.2,77.7 L141.0,77.6 L141.8,77.4 L142.6,77.3 L143.4,77.2 L144.1,77.0 L144.9,76.9 L145.7,76.7 L146.5,76.6 L147.3,76.4 L148.0,76.3 L148.8,76.2 L149.6,76.0 L150.4,75.9 L151.2,75.8 L152.0,75.6 L152.7,75.5 L153.5,75.4 L154.3,75.2 L155.1,75.1 L155.9,75.0 L156.6,74.9 L157.4,74.8 L158.2,74.6 L159.0,74.5 L159.8,74.4 L160.6,74.3 L161.3,74.2 L162.1,74.1 L162.9,74.0 L163.7,73.9 L164.5,73.8 L165.2,73.7 L166.0,73.6 L166.8,73.6 L167.6,73.5 L168.4,73.4 L169.1,73.3 L169.9,73.2 L170.7,73.2 L171.5,73.1 L172.3,73.1 L173.1,73.0 L173.8,72.9 L174.6,72.9 L175.4,72.8 L176.2,72.8 L177.0,72.8 L177.7,72.7 L178.5,72.7 L179.3,72.7 L180.1,72.7 L180.9,72.6 L181.7,72.6 L182.4,72.6 L183.2,72.6 L184.0,72.6 L184.8,72.6 L185.6,72.6 L186.3,72.7 L187.1,72.7 L187.9,72.7 L188.7,72.7 L189.5,72.8 L190.2,72.8 L191.0,72.8 L191.8,72.9 L192.6,73.0 L193.4,73.0 L194.2,73.1 L194.9,73.1 L195.7,73.2 L196.5,73.3 L197.3,73.4 L198.1,73.5 L198.8,73.6 L199.6,73.7 L200.4,73.8 L201.2,73.9 L202.0,74.0 L202.7,74.2 L203.5,74.3 L204.3,74.4 L205.1,74.6 L205.9,74.7 L206.7,74.9 L207.4,75.0 L208.2,75.2 L209.0,75.4 L209.8,75.6 L210.6,75.8 L211.3,76.0 L212.1,76.2 L212.9,76.4 L213.7,76.6 L214.5,76.8 L215.3,77.0 L216.0,77.3 L216.8,77.5 L217.6,77.8 L218.4,78.0 L219.2,78.3 L219.9,78.6 L220.7,78.9 L221.5,79.2 L222.3,79.5 L223.1,79.8 L223.8,80.1 L224.6,80.4 L225.4,80.8 L226.2,81.1 L227.0,81.5 L227.8,81.8 L228.5,82.2 L229.3,82.6 L230.1,83.0 L230.9,83.4 L231.7,83.8 L232.4,84.2 L233.2,84.7 L234.0,85.1 L234.8,85.6 L235.6,86.1 L236.4,86.6 L237.1,87.1 L237.9,87.6 L238.7,88.2 L239.5,88.8 L240.3,89.4 L241.0,90.0 L241.8,90.7 L242.6,91.4 L243.4,92.1 L244.2,92.9 L244.9,93.7 L245.7,94.6 L246.5,95.5 L247.3,96.5 L248.1,97.6 L248.9,98.7 L249.6,99.9 L250.4,101.2 L251.2,102.6 L252.0,104.0 L252.8,105.6 L253.5,107.3 L254.3,109.1 L255.1,111.0 L255.9,113.1 L256.7,115.2 L257.5,117.6 L258.2,120.0 L259.0,122.7 L259.8,125.5 L260.6,128.4 L261.4,131.6 L262.1,134.9 L262.9,138.3 L263.7,142.0 L264.5,145.9 L265.3,149.9 L266.0,154.1 L266.8,158.5 L267.6,163.0 L268.4,167.8 L269.2,172.7 L270.0,177.7 L270.7,182.9 L271.5,188.3 L272.3,193.8 L273.1,199.3 L273.9,205.0 L274.6,210.8 L275.4,216.6 L276.2,222.4 L277.0,228.3 L277.8,234.2 L278.6,240.0 L279.3,245.8 L280.1,251.4 L280.9,257.0 L281.7,262.4 L282.5,267.6 L283.2,272.6 L284.0,277.3 L284.8,281.8 L285.6,285.9 L286.4,289.7 L287.1,293.1 L287.9,296.0 L288.7,298.6 L289.5,300.6 L290.3,302.2 L291.1,303.2 L291.8,303.8 L292.6,303.8 L293.4,303.3 L294.2,302.5 L295.0,301.5 L295.7,300.1 L296.5,298.4 L297.3,296.5 L298.1,294.3 L298.9,291.8 L299.6,289.1 L300.4,286.1 L301.2,282.9 L302.0,279.5 L302.8,275.9 L303.6,272.1 L304.3,268.1 L305.1,264.0 L305.9,259.7 L306.7,255.3 L307.5,250.8 L308.2,246.2 L309.0,241.5 L309.8,236.7 L310.6,231.9 L311.4,227.0 L312.2,222.1 L312.9,217.2 L313.7,212.3 L314.5,207.4 L315.3,202.5 L316.1,197.6 L316.8,192.8 L317.6,188.0 L318.4,183.3 L319.2,178.6 L320.0,174.0 L320.7,169.5 L321.5,165.0 L322.3,160.7 L323.1,156.4 L323.9,152.2 L324.7,148.1 L325.4,144.2 L326.2,140.3 L327.0,136.6 L327.8,132.9 L328.6,129.4 L329.3,126.0 L330.1,122.7 L330.9,119.5 L331.7,116.4 L332.5,113.5 L333.3,110.6 L334.0,107.9 L334.8,105.3 L335.6,102.8 L336.4,100.4 L337.2,98.1 L337.9,95.9 L338.7,93.8 L339.5,91.8 L340.3,89.9 L341.1,88.1 L341.8,86.4 L342.6,84.8 L343.4,83.2 L344.2,81.8 L345.0,80.4 L345.8,79.1 L346.5,77.8 L347.3,76.7 L348.1,75.6 L348.9,74.5 L349.7,73.5 L350.4,72.6 L351.2,71.7 L352.0,70.9 L352.8,70.2 L353.6,69.4 L354.4,68.7 L355.1,68.1 L355.9,67.5 L356.7,66.9 L357.5,66.4 L358.3,65.9 L359.0,65.4 L359.8,65.0 L360.6,64.6 L361.4,64.2 L362.2,63.8 L362.9,63.5 L363.7,63.1 L364.5,62.8 L365.3,62.6 L366.1,62.3 L366.9,62.0 L367.6,61.8 L368.4,61.6 L369.2,61.4 L370.0,61.1 L370.8,61.0 L371.5,60.8 L372.3,60.6 L373.1,60.4 L373.9,60.3 L374.7,60.1 L375.5,60.0 L376.2,59.9 L377.0,59.7 L377.8,59.6 L378.6,59.5 L379.4,59.4 L380.1,59.3 L380.9,59.1 L381.7,59.0 L382.5,58.9 L383.3,58.8 L384.0,58.8 L384.8,58.7 L385.6,58.6 L386.4,58.5 L387.2,58.4 L388.0,58.3 L388.7,58.2 L389.5,58.1 L390.3,58.1 L391.1,58.0 L391.9,57.9 L392.6,57.8 L393.4,57.7 L394.2,57.7 L395.0,57.6 L395.8,57.5 L396.5,57.4 L397.3,57.3 L398.1,57.3 L398.9,57.2 L399.7,57.1 L400.5,57.0 L401.2,56.9 L402.0,56.8 L402.8,56.7 L403.6,56.6 L404.4,56.6 L405.1,56.5 L405.9,56.4 L406.7,56.3 L407.5,56.2 L408.3,56.1 L409.1,56.0 L409.8,55.9 L410.6,55.8 L411.4,55.7 L412.2,55.5 L413.0,55.4 L413.7,55.3 L414.5,55.2 L415.3,55.1 L416.1,55.0 L416.9,54.9 L417.6,54.8 L418.4,54.7 L419.2,54.5 L420.0,54.4 L420.8,54.3 L421.6,54.2 L422.3,54.1 L423.1,53.9 L423.9,53.8 L424.7,53.7 L425.5,53.6 L426.2,53.5 L427.0,53.3 L427.8,53.2 L428.6,53.1 L429.4,53.0 L430.2,52.8 L430.9,52.7 L431.7,52.6 L432.5,52.5 L433.3,52.3 L434.1,52.2 L434.8,52.1 L435.6,51.9 L436.4,51.8 L437.2,51.7 L438.0,51.6 L438.7,51.4 L439.5,51.3 L440.3,51.2 L441.1,51.0 L441.9,50.9 L442.7,50.8 L443.4,50.6 L444.2,50.5 L445.0,50.4"/>
<path stroke="#34368f" d="M133.2,78.4 L134.0,78.2 L134.8,78.0 L135.5,77.8 L136.3,77.6 L137.1,77.4 L137.9,77.2 L138.7,77.0 L139.5,76.8 L140.2,76.7 L141.0,76.5 L141.8,76.3 L142.6,76.1 L143.4,75.9 L144.1,75.7 L144.9,75.5 L145.7,75.3 L146.5,75.2 L147.3,75.0 L148.0,74.8 L148.8,74.6 L149.6,74.5 L150.4,74.3 L151.2,74.1 L152.0,73.9 L152.7,73.8 L153.5,73.6 L154.3,73.5 L155.1,73.3 L155.9,73.1 L156.6,73.0 L157.4,72.8 L158.2,72.7 L159.0,72.6 L159.8,72.4 L160.6,72.3 L161.3,72.1 L162.1,72.0 L162.9,71.9 L163.7,71.8 L164.5,71.7 L165.2,71.5 L166.0,71.4 L166.8,71.3 L167.6,71.2 L168.4,71.1 L169.1,71.0 L169.9,70.9 L170.7,70.9 L171.5,70.8 L172.3,70.7 L173.1,70.6 L173.8,70.6 L174.6,70.5 L175.4,70.5 L176.2,70.4 L177.0,70.4 L177.7,70.3 L178.5,70.3 L179.3,70.3 L180.1,70.2 L180.9,70.2 L181.7,70.2 L182.4,70.2 L183.2,70.2 L184.0,70.2 L184.8,70.2 L185.6,70.2 L186.3,70.3 L187.1,70.3 L187.9,70.3 L188.7,70.4 L189.5,70.4 L190.2,70.5 L191.0,70.5 L191.8,70.6 L192.6,70.7 L193.4,70.7 L194.2,70.8 L194.9,70.9 L195.7,71.0 L196.5,71.1 L197.3,71.2 L198.1,71.3 L198.8,71.4 L199.6,71.5 L200.4,71.6 L201.2,71.8 L202.0,71.9 L202.7,72.0 L203.5,72.2 L204.3,72.3 L205.1,72.5 L205.9,72.7 L206.7,72.8 L207.4,73.0 L208.2,73.2 L209.0,73.4 L209.8,73.6 L210.6,73.8 L211.3,74.0 L212.1,74.2 L212.9,74.4 L213.7,74.6 L214.5,74.9 L215.3,75.1 L216.0,75.4 L216.8,75.6 L217.6,75.9 L218.4,76.1 L219.2,76.4 L219.9,76.7 L220.7,77.0 L221.5,77.3 L222.3,77.6 L223.1,77.9 L223.8,78.2 L224.6,78.6 L225.4,78.9 L226.2,79.2 L227.0,79.6 L227.8,80.0 L228.5,80.4 L229.3,80.8 L230.1,81.2 L230.9,81.6 L231.7,82.0 L232.4,82.5 L233.2,83.0 L234.0,83.4 L234.8,83.9 L235.6,84.5 L236.4,85.0 L237.1,85.6 L237.9,86.2 L238.7,86.8 L239.5,87.5 L240.3,88.2 L241.0,88.9 L241.8,89.7 L242.6,90.5 L243.4,91.3 L244.2,92.3 L244.9,93.2 L245.7,94.3 L246.5,95.4 L247.3,96.5 L248.1,97.8 L248.9,99.1 L249.6,100.5 L250.4,102.0 L251.2,103.6 L252.0,105.4 L252.8,107.2 L253.5,109.2 L254.3,111.2 L255.1,113.5 L255.9,115.8 L256.7,118.3 L257.5,121.0 L258.2,123.8 L259.0,126.8 L259.8,129.9 L260.6,133.3 L261.4,136.8 L262.1,140.5 L262.9,144.4 L263.7,148.4 L264.5,152.7 L265.3,157.1 L266.0,161.7 L266.8,166.5 L267.6,171.5 L268.4,176.7 L269.2,182.0 L270.0,187.5 L270.7,193.2 L271.5,199.0 L272.3,204.9 L273.1,210.9 L273.9,217.1 L274.6,223.3 L275.4,229.6 L276.2,235.9 L277.0,242.3 L277.8,248.6 L278.6,254.9 L279.3,261.1 L280.1,267.3 L280.9,273.3 L281.7,279.1 L282.5,284.7 L283.2,290.1 L284.0,295.2 L284.8,300.0 L285.6,304.4 L286.4,308.4 L287.1,311.9 L287.9,315.0 L288.7,317.5 L289.5,319.5 L290.3,320.9 L291.1,321.7 L291.8,321.9 L292.6,321.6 L293.4,320.9 L294.2,319.9 L295.0,318.6 L295.7,317.0 L296.5,315.1 L297.3,312.8 L298.1,310.4 L298.9,307.6 L299.6,304.6 L300.4,301.3 L301.2,297.8 L302.0,294.1 L302.8,290.2 L303.6,286.1 L304.3,281.9 L305.1,277.5 L305.9,273.0 L306.7,268.4 L307.5,263.6 L308.2,258.8 L309.0,253.9 L309.8,249.0 L310.6,244.0 L311.4,238.9 L312.2,233.9 L312.9,228.8 L313.7,223.8 L314.5,218.7 L315.3,213.7 L316.1,208.7 L316.8,203.8 L317.6,198.9 L318.4,194.0 L319.2,189.2 L320.0,184.5 L320.7,179.9 L321.5,175.3 L322.3,170.8 L323.1,166.4 L323.9,162.1 L324.7,157.9 L325.4,153.8 L326.2,149.8 L327.0,145.8 L327.8,142.0 L328.6,138.3 L329.3,134.7 L330.1,131.2 L330.9,127.9 L331.7,124.6 L332.5,121.4 L333.3,118.4 L334.0,115.4 L334.8,112.6 L335.6,109.8 L336.4,107.2 L337.2,104.7 L337.9,102.2 L338.7,99.9 L339.5,97.6 L340.3,95.5 L341.1,93.4 L341.8,91.5 L342.6,89.6 L343.4,87.8 L344.2,86.1 L345.0,84.4 L345.8,82.9 L346.5,81.4 L347.3,80.0 L348.1,78.7 L348.9,77.4 L349.7,76.2 L350.4,75.0 L351.2,74.0 L352.0,72.9 L352.8,71.9 L353.6,71.0 L354.4,70.2 L355.1,69.3 L355.9,68.5 L356.7,67.8 L357.5,67.1 L358.3,66.5 L359.0,65.9 L359.8,65.3 L360.6,64.7 L361.4,64.2 L362.2,63.7 L362.9,63.3 L363.7,62.9 L364.5,62.5 L365.3,62.1 L366.1,61.7 L366.9,61.4 L367.6,61.1 L368.4,60.8 L369.2,60.5 L370.0,60.3 L370.8,60.0 L371.5,59.8 L372.3,59.6 L373.1,59.4 L373.9,59.2 L374.7,59.0 L375.5,58.8 L376.2,58.7 L377.0,58.5 L377.8,58.4 L378.6,58.3 L379.4,58.1 L380.1,58.0 L380.9,57.9 L381.7,57.8 L382.5,57.7 L383.3,57.6 L384.0,57.5 L384.8,57.5 L385.6,57.4 L386.4,57.3 L387.2,57.2 L388.0,57.2 L388.7,57.1 L389.5,57.0 L390.3,57.0 L391.1,56.9 L391.9,56.8 L392.6,56.8 L393.4,56.7 L394.2,56.6 L395.0,56.6 L395.8,56.5 L396.5,56.5 L397.3,56.4 L398.1,56.3 L398.9,56.3 L399.7,56.2 L400.5,56.1 L401.2,56.1 L402.0,56.0 L402.8,55.9 L403.6,55.8 L404.4,55.8 L405.1,55.7 L405.9,55.6 L406.7,55.5 L407.5,55.4 L408.3,55.3 L409.1,55.2 L409.8,55.1 L410.6,55.0 L411.4,54.9 L412.2,54.8 L413.0,54.7 L413.7,54.6 L414.5,54.5 L415.3,54.4 L416.1,54.3 L416.9,54.2 L417.6,54.1 L418.4,54.0 L419.2,53.9 L420.0,53.8 L420.8,53.6 L421.6,53.5 L422.3,53.4 L423.1,53.3 L423.9,53.2 L424.7,53.0 L425.5,52.9 L426.2,52.8 L427.0,52.7 L427.8,52.5 L428.6,52.4 L429.4,52.3 L430.2,52.2 L430.9,52.0 L431.7,51.9 L432.5,51.8 L433.3,51.6 L434.1,51.5 L434.8,51.4 L435.6,51.2 L436.4,51.1 L437.2,51.0 L438.0,50.8 L438.7,50.7 L439.5,50.6 L440.3,50.4 L441.1,50.3 L441.9,50.2 L442.7,50.0 L443.4,49.9 L444.2,49.8 L445.0,49.7"/>
</g>
<path d="M386.7,173.1 H422.6" stroke="#1c1c1c" stroke-width="2.2"/>
<text transform="translate(426.8,179.9) scale(1,1.14)" font-size="17.6" text-anchor="start">Blank</text>
<path d="M386.7,199.1 H422.6" stroke="#ff1a1a" stroke-width="2.2"/>
<text transform="translate(426.8,205.9) scale(1,1.14)" font-size="17.6" text-anchor="start">100fM</text>
<path d="M386.7,225.0 H422.6" stroke="#2424ff" stroke-width="2.2"/>
<text transform="translate(426.8,231.8) scale(1,1.14)" font-size="17.6" text-anchor="start">1pM</text>
<path d="M386.7,251.0 H422.6" stroke="#068c8c" stroke-width="2.2"/>
<text transform="translate(426.8,257.8) scale(1,1.14)" font-size="17.6" text-anchor="start">10pM</text>
<path d="M386.7,277.0 H422.6" stroke="#ff24ff" stroke-width="2.2"/>
<text transform="translate(426.8,283.8) scale(1,1.14)" font-size="17.6" text-anchor="start">100pM</text>
<path d="M386.7,302.9 H422.6" stroke="#929230" stroke-width="2.2"/>
<text transform="translate(426.8,309.8) scale(1,1.14)" font-size="17.6" text-anchor="start">1nM</text>
<path d="M386.7,328.9 H422.6" stroke="#34368f" stroke-width="2.2"/>
<text transform="translate(426.8,335.7) scale(1,1.14)" font-size="17.6" text-anchor="start">10nM</text>
<text transform="translate(359.3,218.8) scale(1,1.2)" font-size="21.5" text-anchor="middle">a</text>
<path d="M358.8,223.7 V256" stroke="#000" stroke-width="2"/>
<path d="M355.1,253.4 L362.5,253.4 Q362,262 358.8,269.6 Q355.6,262 355.1,253.4 Z" fill="#000"/>
<text transform="translate(358.7,286.3) scale(1,1.2)" font-size="21.5" text-anchor="middle">g</text>
<g stroke="#000" stroke-width="2.3" fill="none">
<path d="M612.5,13.9 H1014.2 V358.85 H612.5 Z"/>
<path d="M612.5,358.9 H606.1"/>
<path d="M612.5,276.7 H606.1"/>
<path d="M612.5,194.6 H606.1"/>
<path d="M612.5,112.4 H606.1"/>
<path d="M612.5,30.2 H606.1"/>
<path d="M612.5,317.8 H608.6"/>
<path d="M612.5,235.6 H608.6"/>
<path d="M612.5,153.5 H608.6"/>
<path d="M612.5,71.3 H608.6"/>
<path d="M646.0,358.85 V366.25"/>
<path d="M712.9,358.85 V366.25"/>
<path d="M779.8,358.85 V366.25"/>
<path d="M846.6,358.85 V366.25"/>
<path d="M913.5,358.85 V366.25"/>
<path d="M980.4,358.85 V366.25"/>
<path d="M612.6,358.85 V363.05"/>
<path d="M679.4,358.85 V363.05"/>
<path d="M746.3,358.85 V363.05"/>
<path d="M813.2,358.85 V363.05"/>
<path d="M880.1,358.85 V363.05"/>
<path d="M947.0,358.85 V363.05"/>
<path d="M1013.8,358.85 V363.05"/>
</g>
<text transform="translate(603.0,366.4) scale(1,1.14)" font-size="23.5" text-anchor="end">0</text>
<text transform="translate(603.0,284.2) scale(1,1.14)" font-size="23.5" text-anchor="end">5</text>
<text transform="translate(603.0,202.1) scale(1,1.14)" font-size="23.5" text-anchor="end">10</text>
<text transform="translate(603.0,119.9) scale(1,1.14)" font-size="23.5" text-anchor="end">15</text>
<text transform="translate(603.0,37.8) scale(1,1.14)" font-size="23.5" text-anchor="end">20</text>
<text transform="translate(646.0,390.6) scale(1,1.14)" font-size="23.5" text-anchor="middle">-13</text>
<text transform="translate(712.9,390.6) scale(1,1.14)" font-size="23.5" text-anchor="middle">-12</text>
<text transform="translate(779.8,390.6) scale(1,1.14)" font-size="23.5" text-anchor="middle">-11</text>
<text transform="translate(846.6,390.6) scale(1,1.14)" font-size="23.5" text-anchor="middle">-10</text>
<text transform="translate(913.5,390.6) scale(1,1.14)" font-size="23.5" text-anchor="middle">-9</text>
<text transform="translate(980.4,390.6) scale(1,1.14)" font-size="23.5" text-anchor="middle">-8</text>
<text transform="translate(804.6,424.3) scale(1,1.14)" font-size="31.0" text-anchor="middle">LogC/(mol/L)</text>
<text transform="translate(568.6,215) scale(1,1.17) rotate(-90)" font-size="30.6" text-anchor="start">I/μA</text>
<path d="M547.4,232.3 L568.3,219.6 L568.3,245.1 Z" fill="none" stroke="#000" stroke-width="2" stroke-linejoin="miter"/>
<text transform="translate(632.3,57.4) scale(1,1.14)" font-size="23" text-anchor="start">(B)</text>
<path d="M646,295.8 L980.4,49" stroke="#04841a" stroke-width="3.2" stroke-linecap="butt"/>
<defs><radialGradient id="sph" cx="0.5" cy="0.5" r="0.5" fx="0.35" fy="0.35"><stop offset="0" stop-color="#ffffff"/><stop offset="0.16" stop-color="#eaf6ea"/><stop offset="0.3" stop-color="#3aa44c"/><stop offset="0.42" stop-color="#07891c"/><stop offset="1" stop-color="#047a16"/></radialGradient></defs>
<g stroke="#04841a" stroke-width="2" fill="none"><path d="M646,291 V323.2 M642,291 H650 M642,323.2 H650"/></g>
<ellipse cx="646" cy="306.9" rx="6.3" ry="6.9" fill="url(#sph)"/>
<g stroke="#04841a" stroke-width="2" fill="none"><path d="M712.9,246.9 V269.1 M708.9,246.9 H716.9 M708.9,269.1 H716.9"/></g>
<ellipse cx="712.9" cy="259.1" rx="6.3" ry="6.9" fill="url(#sph)"/>
<g stroke="#04841a" stroke-width="2" fill="none"><path d="M780,165 V185.2 M776,165 H784 M776,185.2 H784"/></g>
<ellipse cx="780" cy="175.3" rx="6.3" ry="6.9" fill="url(#sph)"/>
<g stroke="#04841a" stroke-width="2" fill="none"><path d="M846.5,133 V164.7 M842.5,133 H850.5 M842.5,164.7 H850.5"/></g>
<ellipse cx="846.5" cy="148.8" rx="6.3" ry="6.9" fill="url(#sph)"/>
<g stroke="#04841a" stroke-width="2" fill="none"><path d="M913.7,92.8 V123.2 M909.7,92.8 H917.7 M909.7,123.2 H917.7"/></g>
<ellipse cx="913.7" cy="107.6" rx="6.3" ry="6.9" fill="url(#sph)"/>
<g stroke="#04841a" stroke-width="2" fill="none"><path d="M980.4,42 V73.7 M976.4,42 H984.4 M976.4,73.7 H984.4"/></g>
<ellipse cx="980.4" cy="57.8" rx="6.3" ry="6.9" fill="url(#sph)"/>
</svg></body></html>
